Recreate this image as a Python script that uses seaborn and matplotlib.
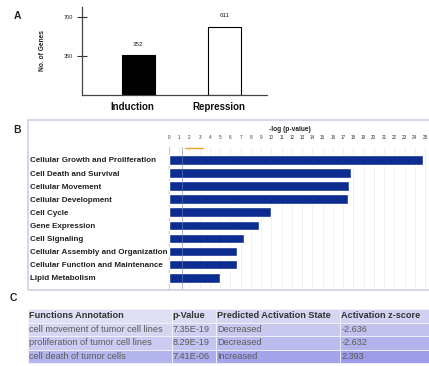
import numpy as np
import pandas as pd
import matplotlib
matplotlib.use("Agg")
import matplotlib.pyplot as plt
import matplotlib.transforms as mtransforms
from matplotlib.patches import Rectangle
import seaborn as sns

# ---------------- data ----------------
a_categories = ["Induction", "Repression"]
a_values = [352, 611]
a_yticks = [350, 700]

b_functions = [
    "Cellular Growth and Proliferation",
    "Cell Death and Survival",
    "Cellular Movement",
    "Cellular Development",
    "Cell Cycle",
    "Gene Expression",
    "Cell Signaling",
    "Cellular Assembly and Organization",
    "Cellular Function and Maintenance",
    "Lipid Metabolism",
]
b_neglogp = [24.8, 17.8, 17.6, 17.5, 10.0, 8.8, 7.3, 6.6, 6.6, 5.0]
b_ticks = list(range(0, 26))
b_threshold = 1.3

c_header = ["Functions Annotation", "p-Value", "Predicted Activation State", "Activation z-score"]
c_annotation = ["cell movement of tumor cell lines", "proliferation of tumor cell lines", "cell death of tumor cells"]
c_pvalue = ["7.35E-19", "8.29E-19", "7.41E-06"]
c_state = ["Decreased", "Decreased", "Increased"]
c_zscore = ["-2.636", "-2.632", "2.393"]

# ---------------- setup ----------------
sns.set_theme(style="white")
plt.rcParams["font.family"] = ["Liberation Sans", "DejaVu Sans"]

W, H = 429, 366
fig = plt.figure(figsize=(W / 100, H / 100), dpi=100)


def px_axes(x0, y0, x1, y1):
    """axes from pixel box (top-left origin)"""
    return fig.add_axes([x0 / W, 1 - y1 / H, (x1 - x0) / W, (y1 - y0) / H])


# ---------------- Panel A ----------------
axA = px_axes(82, 7, 267, 94.7)
dfA = pd.DataFrame({"cat": a_categories, "val": a_values})
sns.barplot(data=dfA, x="cat", y="val", hue="cat", palette=["black", "white"],
            edgecolor="black", linewidth=0.8, width=0.38, legend=False, ax=axA)
axA.set_xlim(-0.657, 1.494)
axA.set_ylim(0, 787)
axA.set_yticks(a_yticks)
axA.set_yticklabels([str(t) for t in a_yticks], fontsize=4)
axA.tick_params(axis="y", direction="inout", length=7, width=0.8, color="#333333", pad=3, left=True)
axA.tick_params(axis="x", length=0, pad=5)
shift = mtransforms.ScaledTranslation(-6 / 100, 0, fig.dpi_scale_trans)
for lab in axA.get_xticklabels():
    lab.set_fontsize(7)
    lab.set_fontweight("bold")
    lab.set_color("#111111")
    lab.set_transform(lab.get_transform() + shift)
axA.set_xlabel("")
axA.set_ylabel("No. of Genes", fontsize=4.8, fontweight="bold", labelpad=13, color="#222222")
for s in ["top", "right"]:
    axA.spines[s].set_visible(False)
for s in ["left", "bottom"]:
    axA.spines[s].set_color("#444444")
    axA.spines[s].set_linewidth(0.9)
for i, v in enumerate(a_values):
    axA.text(i, v + 75, str(v), ha="center", va="bottom", fontsize=4.5, color="#222222")

# ---------------- Panel B ----------------
fig.patches.append(Rectangle((28 / W, 1 - 290 / H), 420 / W, 170 / H, transform=fig.transFigure,
                             fill=False, edgecolor="#cfd0e3", linewidth=1.2, zorder=0))
axB = px_axes(169, 147, 169 + 27 * 10.24, 290)
dfB = pd.DataFrame({"fn": b_functions, "v": b_neglogp})
sns.barplot(data=dfB, x="v", y="fn", orient="h", color="#0d2c8f", saturation=1,
            width=0.74, ax=axB, zorder=3)
axB.set_xlim(0, 27)
axB.set_ylim(9.94, -0.99)
axB.set_xticks(b_ticks)
axB.xaxis.tick_top()
axB.set_xticklabels([str(i) for i in b_ticks], fontsize=3.3, color="#333333")
axB.tick_params(axis="x", length=0, pad=5)
axB.set_xlabel("")
axB.set_ylabel("")
axB.text(11.8, -2.3, "-log (p-value)", fontsize=4.8, fontweight="bold", ha="center",
         va="center", color="#222222", clip_on=False)
axB.set_yticks(range(len(b_functions)))
axB.set_yticklabels(b_functions, fontsize=5.8, fontweight="bold", ha="left", color="#222222")
axB.tick_params(axis="y", length=0, pad=100)
axB.grid(axis="x", color="#eeeeee", linewidth=0.6, zorder=0)
for s in ["top", "right", "bottom"]:
    axB.spines[s].set_visible(False)
axB.spines["left"].set_color("#c8c8d0")
axB.spines["left"].set_linewidth(0.8)
axB.axvline(b_threshold, color="#6d7fb8", linewidth=0.6, alpha=0.7, zorder=4)
axB.plot([1.6, 3.3], [-0.95, -0.95], color="#f0a030", linewidth=1.0, clip_on=False, zorder=5)

# ---------------- Panel C ----------------
axC = px_axes(28, 309, 452, 363)
axC.axis("off")
cell_text = [list(r) for r in zip(c_annotation, c_pvalue, c_state, c_zscore)]
ncols = len(c_header)
row_left = [(0.88, 0.88, 0.96), (0.84, 0.84, 0.95), (0.80, 0.80, 0.95), (0.71, 0.71, 0.93)]
row_right = [(0.82, 0.82, 0.95), (0.76, 0.76, 0.93), (0.70, 0.70, 0.92), (0.61, 0.61, 0.91)]
colw = np.array([144, 44, 124, 112], dtype=float)
colw = colw / colw.sum()
tbl = axC.table(cellText=cell_text, colLabels=c_header, colWidths=list(colw),
                bbox=[0, 0, 1, 1], cellLoc="left", colLoc="left")
tbl.auto_set_font_size(False)
for (r, c), cell in tbl.get_celld().items():
    t = c / (ncols - 1)
    col = tuple(np.array(row_left[r]) * (1 - t) + np.array(row_right[r]) * t)
    cell.set_facecolor(col)
    cell.set_edgecolor("#f4f4fb")
    cell.set_linewidth(0.6)
    cell.PAD = 0.01
    txt = cell.get_text()
    if r == 0:
        txt.set_fontsize(6.6)
        txt.set_fontweight("bold")
        txt.set_color("#333333")
    else:
        txt.set_fontsize(6.6)
        txt.set_color("#5a5a5a")

# ---------------- panel letters ----------------
fig.text(17 / W, 1 - 16 / H, "A", fontsize=7.5, fontweight="bold", ha="center", va="center", color="#222222")
fig.text(17 / W, 1 - 130 / H, "B", fontsize=7.5, fontweight="bold", ha="center", va="center", color="#222222")
fig.text(13 / W, 1 - 298 / H, "C", fontsize=7.5, fontweight="bold", ha="center", va="center", color="#222222")

fig.savefig("out.png", dpi=100)
